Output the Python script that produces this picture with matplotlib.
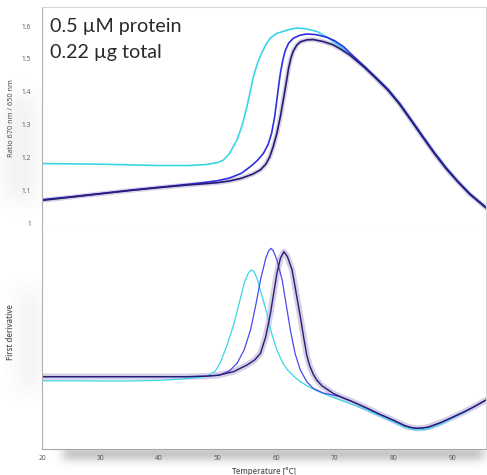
import numpy as np
import matplotlib.pyplot as plt

plt.rcParams['font.family'] = ['Open Sans', 'DejaVu Sans']

# ratio 670/650 nm traces
cyan_T = [20, 25, 30, 35, 40, 45, 48, 50, 51, 52, 53.3, 54.2, 55, 55.6, 56.1, 56.8,
          57.5, 58.2, 59, 60, 61.2, 62.3, 63.5, 65, 66.9, 68.8, 70.9, 73, 75, 77,
          79, 81, 83, 85, 87, 89, 91, 93, 95.8]
cyan_ratio = [1.182, 1.181, 1.180, 1.178, 1.176, 1.176, 1.179, 1.185, 1.193, 1.212,
              1.254, 1.300, 1.356, 1.405, 1.447, 1.488, 1.518, 1.543, 1.564, 1.577,
              1.584, 1.590, 1.594, 1.592, 1.584, 1.565, 1.538, 1.509, 1.478, 1.444,
              1.409, 1.366, 1.316, 1.265, 1.215, 1.169, 1.128, 1.091, 1.048]

blue_T = [20, 25, 30, 35, 40, 45, 48, 50, 52, 54, 55.6, 56.8, 57.8, 58.6, 59.2, 59.7,
          60.1, 60.4, 60.7, 61.1, 61.5, 62.1, 62.9, 64, 65.2, 66.8, 68.6, 70, 71.5,
          73, 75, 77, 79, 81, 83, 85, 87, 89, 91, 93, 95.8]
blue_ratio = [1.072, 1.081, 1.091, 1.101, 1.110, 1.119, 1.125, 1.130, 1.138, 1.152,
              1.173, 1.192, 1.213, 1.240, 1.274, 1.322, 1.376, 1.418, 1.457, 1.495,
              1.524, 1.548, 1.563, 1.572, 1.576, 1.574, 1.566, 1.555, 1.537, 1.511,
              1.478, 1.444, 1.409, 1.366, 1.316, 1.265, 1.215, 1.169, 1.128, 1.091, 1.049]

dark_T = [20, 25, 30, 35, 40, 45, 48, 50, 52, 54, 56, 57.3, 58.2, 58.9, 59.5, 60.1,
          60.7, 61.2, 61.7, 62.1, 62.5, 62.9, 63.5, 64.1, 65.2, 66.3, 68, 69.7, 71,
          72.6, 75, 77, 79, 81, 83, 85, 87, 89, 91, 93, 95.8]
dark_ratio = [1.070, 1.080, 1.090, 1.100, 1.109, 1.117, 1.121, 1.124, 1.129, 1.137,
              1.150, 1.163, 1.180, 1.203, 1.235, 1.274, 1.325, 1.376, 1.428, 1.472,
              1.503, 1.524, 1.542, 1.552, 1.558, 1.559, 1.553, 1.543, 1.530, 1.511,
              1.475, 1.441, 1.406, 1.363, 1.313, 1.262, 1.212, 1.166, 1.126, 1.089, 1.047]

# first derivative traces (arbitrary units)
cyan_dT = [20, 25, 30, 35, 40, 43, 45, 47, 48.2, 49.5, 50.4, 51.5, 52.7, 53.8, 54.6,
           55.2, 55.7, 56.2, 56.8, 57.5, 58.4, 59.2, 60.1, 61, 61.8, 62.9, 64.1, 65.5,
           66.9, 69.7, 72.5, 75.4, 77.5, 79.9, 82, 83, 84, 85, 86, 87.9, 90, 91.9,
           93.8, 95.8]
cyan_deriv = [-2.4, -2.5, -2.6, -2.6, -2.2, -1.6, -1.0, -0.4, 0.3, 3, 8, 18, 31, 46,
              57, 62, 64, 63, 58, 49, 38, 26, 16, 9, 4.5, 0.5, -3, -6, -8.5, -12.5,
              -16, -20, -23.2, -27, -30.4, -31.4, -31.9, -31.8, -31.2, -28.8, -25,
              -21.8, -18, -14]

blue_dT = [20, 30, 40, 45, 48, 50.4, 52, 53.3, 54.5, 55.6, 56.5, 57.3, 58.2, 58.7,
           59.1, 59.5, 60.1, 61, 61.7, 62.4, 63.2, 64.1, 65.2, 66.3, 68, 70.9, 73,
           75.4, 77.5, 79.9, 82, 83, 84, 85, 86, 87.9, 90, 91.9, 93.8, 95.8]
blue_deriv = [0, 0, 0, 0, 0.3, 1, 3.5, 8, 16, 28, 43, 58, 71, 75.5, 77, 75.5, 70, 58,
              43, 28, 14, 4, -3, -7, -9.8, -12, -15, -18.8, -22.3, -26, -29.5, -30.5,
              -31, -30.8, -30.2, -27.8, -24.5, -21.4, -18, -14]

dark_dT = [20, 30, 40, 45, 48, 50, 52.7, 55, 56.3, 57.3, 58.2, 59, 59.6, 60.1, 60.7,
           61.3, 61.9, 62.7, 63.4, 64.1, 64.7, 65.2, 65.7, 66.3, 66.9, 67.8, 69.7,
           70.9, 73, 75.4, 77.5, 79.9, 82, 83, 84, 85, 86, 87.9, 90, 91.9, 93.8, 95.8]
dark_deriv = [0, 0, 0, 0, 0.3, 0.8, 3, 7, 10, 14, 24, 38, 51, 62, 71, 75, 72, 64, 50,
              36, 23, 13, 6.5, 1.5, -2, -5.5, -10, -12, -15, -18.8, -22.3, -26, -29.5,
              -30.5, -31, -30.8, -30.2, -27.8, -24.5, -21.4, -18, -14]

ratio_ticks = [1, 1.1, 1.2, 1.3, 1.4, 1.5, 1.6]
ratio_ticklabels = ['1', '1.1', '1.2', '1.3', '1.4', '1.5', '1.6']
temp_ticks = [20, 30, 40, 50, 60, 70, 80, 90]

c_cyan = '#3ad6e8'
c_blue = '#2e2ee2'
c_dark = '#261c72'
c_halo = '#cdc4e0'

W, H = 487, 475
fig = plt.figure(figsize=(W / 100, H / 100), dpi=100)


def blur(img, sigma):
    r = int(3 * sigma)
    k = np.exp(-0.5 * (np.arange(-r, r + 1) / sigma) ** 2)
    k /= k.sum()
    img = np.apply_along_axis(lambda v: np.convolve(v, k, mode='same'), 1, img)
    return np.apply_along_axis(lambda v: np.convolve(v, k, mode='same'), 0, img)


# soft drop shadow behind the labels
yy, xx = np.mgrid[0:H, 0:W]
band = np.zeros((H, W))
band[(xx > 62) & (xx < 484) & (yy > 448) & (yy < 458)] = 0.55
side = np.zeros((H, W))
side[(xx > 6) & (xx < 34) & (yy > 95) & (yy < 200)] = 0.10
side[(xx > 20) & (xx < 38) & (yy > 290) & (yy < 390)] = 0.11
shade = blur(band, 5) + blur(side, 11)
rgba = np.zeros((H, W, 4))
rgba[..., :3] = 0.38
rgba[..., 3] = np.clip(shade, 0, 1)
fig.figimage(rgba, 0, 0, origin='upper', zorder=-5)

left, right = 42 / W, 486 / W
mid = 1 - 229 / H
ax1 = fig.add_axes([left, mid, right - left, (1 - 7 / H) - mid])
ax2 = fig.add_axes([left, 1 - 449 / H, right - left, mid - (1 - 449 / H)])

# top panel: ratio
ax1.plot(dark_T, dark_ratio, color=c_halo, lw=3.5, alpha=0.75, solid_capstyle='round')
ax1.plot(cyan_T, cyan_ratio, color=c_cyan, lw=1.2)
ax1.plot(blue_T, blue_ratio, color=c_blue, lw=1.2)
ax1.plot(dark_T, dark_ratio, color=c_dark, lw=1.2)
ax1.set_xlim(20, 95.8)
ax1.set_ylim(0.983, 1.658)
ax1.set_yticks(ratio_ticks)
ax1.set_yticklabels(ratio_ticklabels)
ax1.set_xticks([])
ax1.tick_params(axis='y', length=0, pad=8, labelsize=4.8, labelcolor='#555555')
ax1.set_ylabel('Ratio 670 nm / 650 nm', fontsize=5.3, color='#444444')
ax1.yaxis.set_label_coords(-0.061, 0.5)
ax1.text(0.018, 0.95, '0.5 µM protein\n0.22 µg total', transform=ax1.transAxes,
         fontsize=14.2, color='#2a2a2a', va='top', ha='left', linespacing=1.62,
         family=['Lato', 'DejaVu Sans'])
for s in ['top', 'right', 'bottom']:
    ax1.spines[s].set_color('#d6d6d6')
ax1.spines['left'].set_color('#b0b0b0')

# bottom panel: first derivative
ax2.plot(dark_dT, dark_deriv, color=c_halo, lw=4.5, alpha=0.8, solid_capstyle='round')
ax2.plot(cyan_dT, cyan_deriv, color=c_cyan, lw=0.9)
ax2.plot(blue_dT, blue_deriv, color='#4a4af0', lw=0.9)
ax2.plot(dark_dT, dark_deriv, color=c_dark, lw=1.0)
ax2.set_xlim(20, 95.8)
ax2.set_ylim(-43.4, 88.6)
ax2.set_yticks([])
ax2.set_xticks(temp_ticks)
ax2.tick_params(axis='x', length=0, pad=4, labelsize=4.8, labelcolor='#555555')
ax2.set_xlabel('Temperature [°C]', fontsize=5.6, color='#555555', fontweight='semibold',
               labelpad=4)
ax2.set_ylabel('First derivative', fontsize=5.6, color='#555555', fontweight='semibold')
ax2.yaxis.set_label_coords(-0.061, 0.53)
ax2.spines['top'].set_visible(False)
ax2.spines['right'].set_color('#d6d6d6')
ax2.spines['left'].set_color('#b0b0b0')
ax2.spines['bottom'].set_color('#a8a8a8')

fig.savefig('out.png', dpi=100)
